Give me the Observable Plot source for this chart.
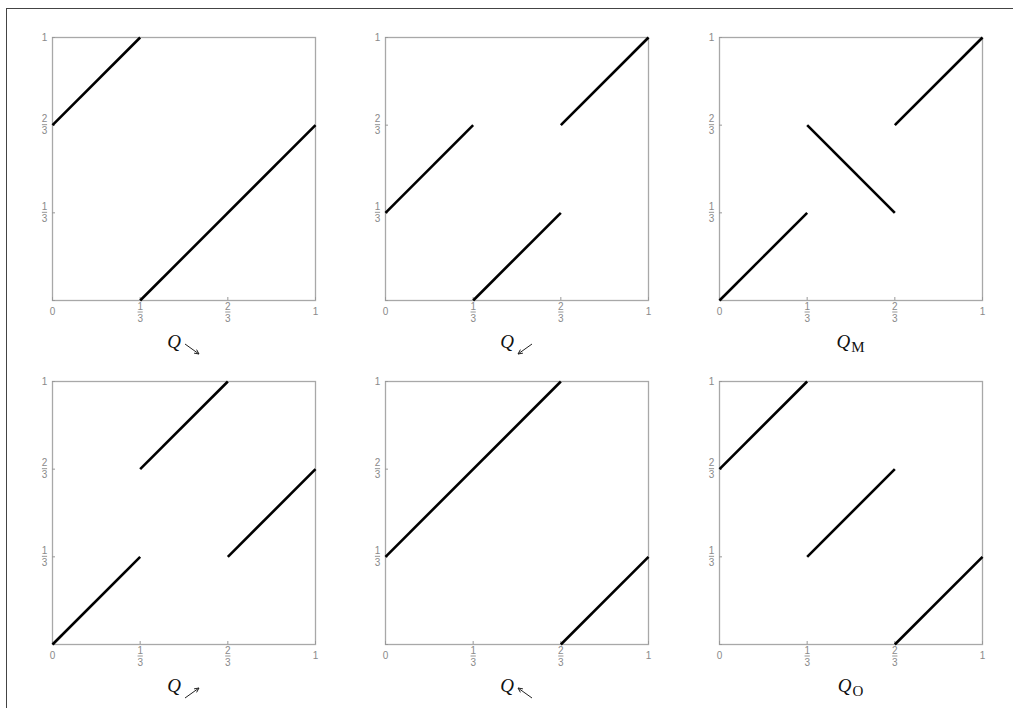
<!DOCTYPE html>
<html>
<head>
<meta charset="utf-8">
<script src="https://cdn.jsdelivr.net/npm/d3@7"></script>
<script src="https://cdn.jsdelivr.net/npm/@observablehq/plot@0.6"></script>
<style>
  html, body { margin: 0; padding: 0; background: #fff; }
  #root { position: relative; width: 1013px; height: 708px; overflow: hidden; }
  .border-top { position: absolute; left: 7px; top: 8px; width: 1010px; height: 0; border-top: 1.5px solid #444; }
  .border-left { position: absolute; left: 6px; top: 8px; width: 0; height: 710px; border-left: 1.5px solid #444; }
  .panel { position: absolute; }
  .caption { position: absolute; width: 200px; text-align: center; font-family: "Liberation Serif", "DejaVu Serif", serif; color: #111; line-height: 24px; }
  .caption i { font-style: italic; font-size: 19px; }
  .caption svg { display: inline-block; margin-left: 3px; vertical-align: -7px; overflow: visible; }
  .caption sub { font-size: 15px; vertical-align: -4px; margin-left: 1px; }
</style>
</head>
<body>
<div id="root">
  <div class="border-top"></div>
  <div class="border-left"></div>
</div>
<script>
// ---- data ----
const tickValues = [0, 1/3, 2/3, 1];
const xIntLabels = [{v: 0, t: "0"}, {v: 1, t: "1"}];
const yIntLabels = [{v: 1, t: "1"}];
const fracLabels = [{v: 1/3, n: "1", d: "3"}, {v: 2/3, n: "2", d: "3"}];

// segments: [x1, y1, x2, y2]
const segSE = [[0, 2/3, 1/3, 1], [1/3, 0, 1, 2/3]];
const segSW = [[0, 1/3, 1/3, 2/3], [1/3, 0, 2/3, 1/3], [2/3, 2/3, 1, 1]];
const segM  = [[0, 0, 1/3, 1/3], [1/3, 2/3, 2/3, 1/3], [2/3, 2/3, 1, 1]];
const segNE = [[0, 0, 1/3, 1/3], [1/3, 2/3, 2/3, 1], [2/3, 1/3, 1, 2/3]];
const segNW = [[0, 1/3, 2/3, 1], [2/3, 0, 1, 1/3]];
const segO  = [[0, 2/3, 1/3, 1], [1/3, 1/3, 2/3, 2/3], [2/3, 0, 1, 1/3]];

const panelSegs = [segSE, segSW, segM, segNE, segNW, segO];
// caption subscript (letter) or arrow direction
const captionSub = [null, null, "M", null, null, "O"];
const captionArrow = ["se", "sw", null, "ne", "nw", null];

// ---- layout ----
const inner = 263;
const mL = 34, mR = 10, mT = 10, mB = 30;
const colLeft = [52, 385, 719];
const rowTop = [37, 381];
const labelColor = "#8a8a8a";
const root = document.getElementById("root");

// horizontal bar symbol for fraction bars
const barSymbol = {
  draw(context, size) {
    const r = Math.sqrt(size / Math.PI);
    context.moveTo(-r, 0);
    context.lineTo(r, 0);
  }
};

function arrowSVG(dir) {
  const W = 16, H = 12;
  const pts = {
    se: [1, 1, W - 1, H - 1],
    sw: [W - 1, 1, 1, H - 1],
    ne: [1, H - 1, W - 1, 1],
    nw: [W - 1, H - 1, 1, 1]
  }[dir];
  const [x0, y0, x1, y1] = pts;
  const ang = Math.atan2(y1 - y0, x1 - x0);
  const L = 5, spread = 0.45;
  const ax = x1 - L * Math.cos(ang - spread), ay = y1 - L * Math.sin(ang - spread);
  const bx = x1 - L * Math.cos(ang + spread), by = y1 - L * Math.sin(ang + spread);
  const ns = "http://www.w3.org/2000/svg";
  const svg = document.createElementNS(ns, "svg");
  svg.setAttribute("width", W);
  svg.setAttribute("height", H);
  svg.innerHTML = `<line x1="${x0}" y1="${y0}" x2="${x1}" y2="${y1}" stroke="#222" stroke-width="1"/>` +
    `<polyline points="${ax},${ay} ${x1},${y1} ${bx},${by}" fill="none" stroke="#222" stroke-width="1"/>`;
  return svg;
}

const tx = {fill: labelColor, fontSize: 10, textAnchor: "middle", lineAnchor: "middle"};

panelSegs.forEach((segs, i) => {
  const col = i % 3, row = Math.floor(i / 3);
  const data = segs.map(([x1, y1, x2, y2]) => ({x1, y1, x2, y2}));
  const plot = Plot.plot({
    width: inner + mL + mR,
    height: inner + mT + mB,
    marginLeft: mL, marginRight: mR, marginTop: mT, marginBottom: mB,
    style: {background: "transparent", fontFamily: "Liberation Sans, Arial, sans-serif", fontSize: "10px", overflow: "visible"},
    x: {domain: [0, 1]},
    y: {domain: [0, 1]},
    marks: [
      Plot.frame({stroke: "#a8a8a8", strokeWidth: 1.3}),
      Plot.axisX({ticks: tickValues, tickSize: -3, tickFormat: () => "", stroke: "#999", label: null}),
      Plot.axisY({ticks: tickValues, tickSize: -3, tickFormat: () => "", stroke: "#999", label: null}),
      // x tick labels
      Plot.text(xIntLabels, {x: "v", frameAnchor: "bottom", text: "t", dy: 11.5, ...tx}),
      Plot.text(fracLabels, {x: "v", frameAnchor: "bottom", text: "n", dy: 6, ...tx}),
      Plot.dot(fracLabels, {x: "v", frameAnchor: "bottom", symbol: barSymbol, r: 2.6, dy: 11.5, stroke: labelColor, strokeWidth: 0.9, fill: "none"}),
      Plot.text(fracLabels, {x: "v", frameAnchor: "bottom", text: "d", dy: 18, ...tx}),
      // y tick labels
      Plot.text(yIntLabels, {y: "v", frameAnchor: "left", text: "t", dx: -8, ...tx}),
      Plot.text(fracLabels, {y: "v", frameAnchor: "left", text: "n", dx: -8, dy: -6, ...tx}),
      Plot.dot(fracLabels, {y: "v", frameAnchor: "left", symbol: barSymbol, r: 2.6, dx: -8, dy: -0.5, stroke: labelColor, strokeWidth: 0.9, fill: "none"}),
      Plot.text(fracLabels, {y: "v", frameAnchor: "left", text: "d", dx: -8, dy: 5.5, ...tx}),
      // segments
      Plot.link(data, {x1: "x1", y1: "y1", x2: "x2", y2: "y2", stroke: "#000", strokeWidth: 2.6, strokeLinecap: "butt"})
    ]
  });
  const div = document.createElement("div");
  div.className = "panel";
  div.style.left = (colLeft[col] - mL) + "px";
  div.style.top = (rowTop[row] - mT) + "px";
  div.appendChild(plot);
  root.appendChild(div);

  const cap = document.createElement("div");
  cap.className = "caption";
  const q = document.createElement("i");
  q.textContent = "Q";
  cap.appendChild(q);
  if (captionSub[i]) {
    const s = document.createElement("sub");
    s.textContent = captionSub[i];
    cap.appendChild(s);
  } else {
    cap.appendChild(arrowSVG(captionArrow[i]));
  }
  cap.style.left = (colLeft[col] + inner / 2 - 100) + "px";
  cap.style.top = (rowTop[row] + inner + 30) + "px";
  root.appendChild(cap);
});
</script>
</body>
</html>
